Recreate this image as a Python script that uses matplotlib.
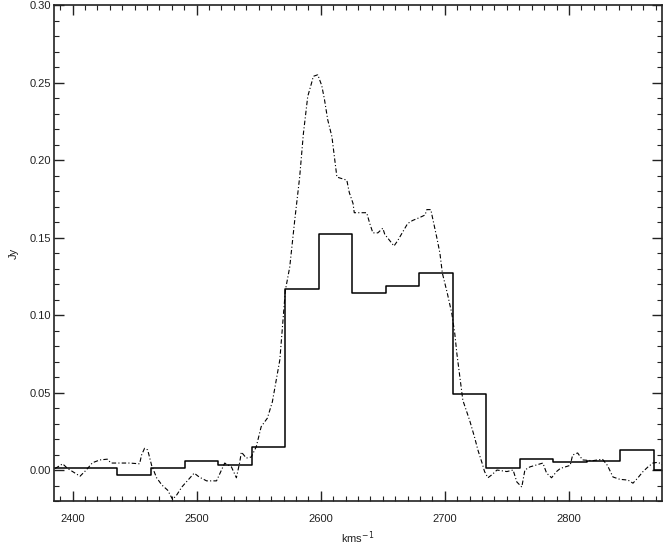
import numpy as np
import matplotlib
matplotlib.use("Agg")
import matplotlib.pyplot as plt
from matplotlib.ticker import MultipleLocator, FormatStrFormatter

plt.rcParams['font.family'] = ['Liberation Sans', 'DejaVu Sans']

# binned spectrum (solid histogram), channel centres in km/s
bin_vel = [2368, 2395, 2422, 2450, 2477, 2504, 2531, 2558, 2585, 2612, 2639, 2666,
           2693, 2720, 2747, 2774, 2801, 2828, 2855, 2882]
bin_flux = [0.001, 0.001, 0.001, -0.003, 0.0015, 0.006, 0.003, 0.015, 0.117, 0.152, 0.114, 0.119,
            0.127, 0.049, 0.001, 0.007, 0.005, 0.006, 0.013, 0.000]

# high resolution spectrum (dash-dot)
hr_vel = [2386, 2392, 2396, 2400, 2406, 2411, 2416, 2422, 2428, 2431,
          2438, 2446, 2454, 2455.6, 2458, 2460.5, 2463.7, 2467.7, 2472, 2476.6,
          2480.6, 2484, 2488, 2493, 2498, 2502, 2508, 2516, 2520, 2522.6,
          2528, 2532, 2534.7, 2536, 2540, 2544, 2548, 2552, 2557, 2561,
          2567, 2571.5, 2575, 2579, 2583, 2586, 2589.5, 2592.7, 2594, 2597.6,
          2600.8, 2603, 2605.6, 2609, 2611, 2613, 2617, 2621, 2623, 2626,
          2627, 2631, 2637, 2639.5, 2642, 2646, 2650, 2651.6, 2655.6, 2659,
          2662, 2666, 2670, 2674, 2680, 2684, 2685.5, 2688.7, 2690, 2693.5,
          2696, 2698, 2702, 2705.6, 2708, 2709.7, 2714.5, 2720, 2724, 2726.6,
          2730, 2732, 2734.7, 2738, 2742, 2750, 2755, 2758, 2762, 2764.5,
          2768.5, 2779, 2782, 2786, 2790, 2793, 2801, 2803, 2807, 2811,
          2819, 2827, 2831, 2835.5, 2841, 2847.6, 2851.6, 2855.6, 2859.7, 2863.7,
          2867.7, 2871.8, 2876]
hr_flux = [0.001, 0.004, 0.001, -0.001, -0.004, 0.000, 0.0047, 0.0065, 0.007, 0.0045,
           0.0045, 0.0045, 0.004, 0.0097, 0.014, 0.013, 0.003, -0.005, -0.0097, -0.013,
           -0.019, -0.016, -0.011, -0.0065, -0.002, -0.0045, -0.007, -0.007, 0.000, 0.0045,
           0.002, -0.005, 0.005, 0.0116, 0.0077, 0.0084, 0.015, 0.028, 0.0335, 0.044,
           0.071, 0.116, 0.131, 0.161, 0.189, 0.217, 0.241, 0.250, 0.254, 0.255,
           0.248, 0.239, 0.226, 0.215, 0.202, 0.189, 0.188, 0.187, 0.179, 0.172,
           0.166, 0.166, 0.166, 0.159, 0.153, 0.153, 0.156, 0.152, 0.148, 0.1445,
           0.148, 0.1535, 0.159, 0.161, 0.163, 0.1645, 0.168, 0.168, 0.163, 0.150,
           0.140, 0.127, 0.114, 0.101, 0.088, 0.075, 0.045, 0.032, 0.021, 0.013,
           0.0045, -0.001, -0.005, -0.003, 0.000, -0.001, 0.000, -0.0077, -0.011, 0.000,
           0.002, 0.0045, -0.002, -0.005, -0.001, 0.001, 0.003, 0.0097, 0.011, 0.0065,
           0.006, 0.007, 0.003, -0.0045, -0.006, -0.0065, -0.0085, -0.005, -0.001, 0.002,
           0.0045, 0.005, 0.003]

fig = plt.figure(figsize=(6.63, 5.45), dpi=100)
ax = fig.add_axes([0.0814, 0.0807, 0.9171, 0.9101])

ax.step(bin_vel, bin_flux, where='mid', color='black', lw=1.1)
ax.plot(hr_vel, hr_flux, color='black', lw=0.8, linestyle=(0, (4, 2, 1, 2)))

ax.set_xlim(2385, 2875)
ax.set_ylim(-0.02, 0.30)

ax.xaxis.set_major_locator(MultipleLocator(100))
ax.xaxis.set_minor_locator(MultipleLocator(10))
ax.yaxis.set_major_locator(MultipleLocator(0.05))
ax.yaxis.set_minor_locator(MultipleLocator(0.01))
ax.yaxis.set_major_formatter(FormatStrFormatter('%.2f'))

ax.tick_params(which='both', direction='in', top=True, right=True,
               labelsize=8, color='#222222', labelcolor='#222222')
ax.tick_params(which='major', length=7.5, width=1.0)
ax.tick_params(which='minor', length=3.8, width=0.8)
ax.tick_params(axis='x', which='major', pad=9)
ax.tick_params(axis='y', which='major', pad=2)

for s in ax.spines.values():
    s.set_linewidth(1.2)
    s.set_color('#222222')

ax.set_xlabel('kms$^{-1}$', fontsize=8, labelpad=4, color='#222222')
ax.set_ylabel('Jy', fontsize=8, labelpad=8, color='#222222')

fig.savefig('out.png', dpi=100)
